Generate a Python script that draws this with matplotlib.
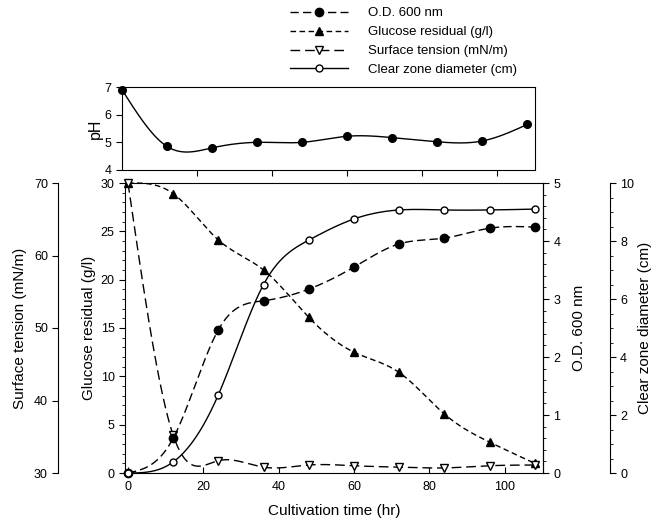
import numpy as np
import matplotlib
matplotlib.use("Agg")
from matplotlib import pyplot as plt
from matplotlib.lines import Line2D
from matplotlib.ticker import MultipleLocator

plt.rcParams['font.family'] = ['Liberation Sans', 'DejaVu Sans']

# sampling times (hr)
hours = [0, 12, 24, 36, 48, 60, 72, 84, 96, 108]

ph = [6.9, 4.85, 4.8, 5.0, 5.0, 5.22, 5.17, 5.02, 5.05, 5.65]
od600 = [0.0, 0.6, 2.47, 2.97, 3.17, 3.55, 3.95, 4.05, 4.22, 4.24]
glucose = [30.0, 28.9, 24.1, 21.0, 16.1, 12.5, 10.4, 6.1, 3.2, 1.0]
surface_tension = [70.0, 35.2, 31.7, 30.8, 31.1, 31.0, 30.8, 30.7, 31.0, 31.1]
clear_zone = [0.0, 0.38, 2.7, 6.5, 8.03, 8.76, 9.07, 9.07, 9.07, 9.1]


def spline(x, y, n=400):
    # natural cubic spline, for the smoothed connecting lines
    x = np.asarray(x, float)
    y = np.asarray(y, float)
    h = np.diff(x)
    m = len(x)
    A = np.zeros((m, m))
    b = np.zeros(m)
    A[0, 0] = 1
    A[-1, -1] = 1
    for i in range(1, m - 1):
        A[i, i - 1] = h[i - 1]
        A[i, i] = 2 * (h[i - 1] + h[i])
        A[i, i + 1] = h[i]
        b[i] = 3 * ((y[i + 1] - y[i]) / h[i] - (y[i] - y[i - 1]) / h[i - 1])
    c = np.linalg.solve(A, b)
    bb = (y[1:] - y[:-1]) / h - h * (2 * c[:-1] + c[1:]) / 3
    d = (c[1:] - c[:-1]) / (3 * h)
    xs = np.linspace(x[0], x[-1], n)
    idx = np.clip(np.searchsorted(x, xs) - 1, 0, m - 2)
    t = xs - x[idx]
    ys = y[idx] + bb[idx] * t + c[idx] * t ** 2 + d[idx] * t ** 3
    return xs, ys


fig = plt.figure(figsize=(6.6, 5.22), dpi=100)

# ---- pH panel
axp = fig.add_axes([122 / 660, 1 - 170 / 522, 413 / 660, 83 / 522])
xs, ys = spline(hours, ph)
axp.plot(xs, ys, color='black', lw=1)
axp.plot(hours, ph, 'o', color='black', ms=5.5, clip_on=False)
axp.set_xlim(0, 110)
axp.set_ylim(4, 7)
axp.set_yticks([4, 5, 6, 7])
axp.set_xticks([20, 40, 60, 80, 100])
axp.set_xticklabels([])
axp.tick_params(direction='out', length=4, labelsize=9)
axp.set_ylabel('pH', fontsize=11.5, labelpad=1)

# ---- main panel
ax = fig.add_axes([125 / 660, 1 - 473 / 522, 418 / 660, 290 / 522])
ax.set_xlim(-0.8, 110.2)
ax.set_ylim(0, 30)
ax.set_xticks([0, 20, 40, 60, 80, 100])
ax.yaxis.set_major_locator(MultipleLocator(5))
ax.yaxis.set_minor_locator(MultipleLocator(1))
ax.tick_params(axis='x', direction='in', length=4, labelsize=9, pad=6)
ax.tick_params(axis='y', direction='out', length=4, labelsize=9)
ax.tick_params(axis='y', which='minor', direction='out', length=2)
ax.set_xlabel('Cultivation time (hr)', fontsize=11, labelpad=8)
ax.set_ylabel('Glucose residual (g/l)', fontsize=11, labelpad=3)

ax_st = ax.twinx()
ax_st.set_ylim(30, 70)
ax_st.yaxis.set_ticks_position('left')
ax_st.yaxis.set_label_position('left')
ax_st.spines['left'].set_position(('outward', 48))
ax_st.spines['left'].set_visible(True)
for s in ('right', 'top', 'bottom'):
    ax_st.spines[s].set_visible(False)
ax_st.set_yticks([30, 40, 50, 60, 70])
ax_st.tick_params(axis='y', direction='out', length=4, labelsize=9)
ax_st.set_ylabel('Surface tension (mN/m)', fontsize=11, labelpad=5)

ax_od = ax.twinx()
ax_od.set_ylim(0, 5)
ax_od.yaxis.set_minor_locator(MultipleLocator(0.2))
for s in ('left', 'top', 'bottom'):
    ax_od.spines[s].set_visible(False)
ax_od.tick_params(axis='y', direction='out', length=4, labelsize=9)
ax_od.tick_params(axis='y', which='minor', direction='out', length=2)
ax_od.set_ylabel('O.D. 600 nm', fontsize=11, labelpad=8)

ax_cz = ax.twinx()
ax_cz.set_ylim(0, 10)
ax_cz.spines['right'].set_position(('outward', 48))
for s in ('left', 'top', 'bottom'):
    ax_cz.spines[s].set_visible(False)
ax_cz.set_yticks([0, 2, 4, 6, 8, 10])
ax_cz.yaxis.set_minor_locator(MultipleLocator(0.5))
ax_cz.tick_params(axis='y', direction='out', length=4, labelsize=9)
ax_cz.tick_params(axis='y', which='minor', direction='out', length=2)
ax_cz.set_ylabel('Clear zone diameter (cm)', fontsize=11, labelpad=3)

# series
xs, ys = spline(hours, glucose)
ax.plot(xs, ys, color='black', lw=1, dashes=(4, 2.5), clip_on=False)
ax.plot(hours, glucose, '^', color='black', ms=6, clip_on=False)

xs, ys = spline(hours, surface_tension)
ax_st.plot(xs, ys, color='black', lw=1, dashes=(7, 3.5), clip_on=False)
ax_st.plot(hours, surface_tension, 'v', color='black', mfc='white', ms=6,
           mew=1, clip_on=False)

xs, ys = spline(hours, od600)
ax_od.plot(xs, ys, color='black', lw=1, dashes=(6, 3), clip_on=False)
ax_od.plot(hours, od600, 'o', color='black', ms=6, clip_on=False)

xs, ys = spline(hours, clear_zone)
ax_cz.plot(xs, ys, color='black', lw=1, clip_on=False)
ax_cz.plot(hours, clear_zone, 'o', color='black', mfc='white', ms=5,
           mew=1, clip_on=False)

handles = [
    Line2D([], [], color='black', lw=1, dashes=(6, 3), marker='o', ms=6),
    Line2D([], [], color='black', lw=1, dashes=(4, 2.5), marker='^', ms=6),
    Line2D([], [], color='black', lw=1, dashes=(7, 3.5), marker='v',
           mfc='white', ms=6),
    Line2D([], [], color='black', lw=1, marker='o', mfc='white', ms=5),
]
labels = ['O.D. 600 nm', 'Glucose residual (g/l)', 'Surface tension (mN/m)',
          'Clear zone diameter (cm)']
fig.legend(handles, labels, loc='upper left', bbox_to_anchor=(283 / 660, 1.0),
           frameon=False, fontsize=9.5, handlelength=4.4, labelspacing=0.5,
           handletextpad=1.5, borderaxespad=0.15)

fig.savefig('out.png', dpi=100)
